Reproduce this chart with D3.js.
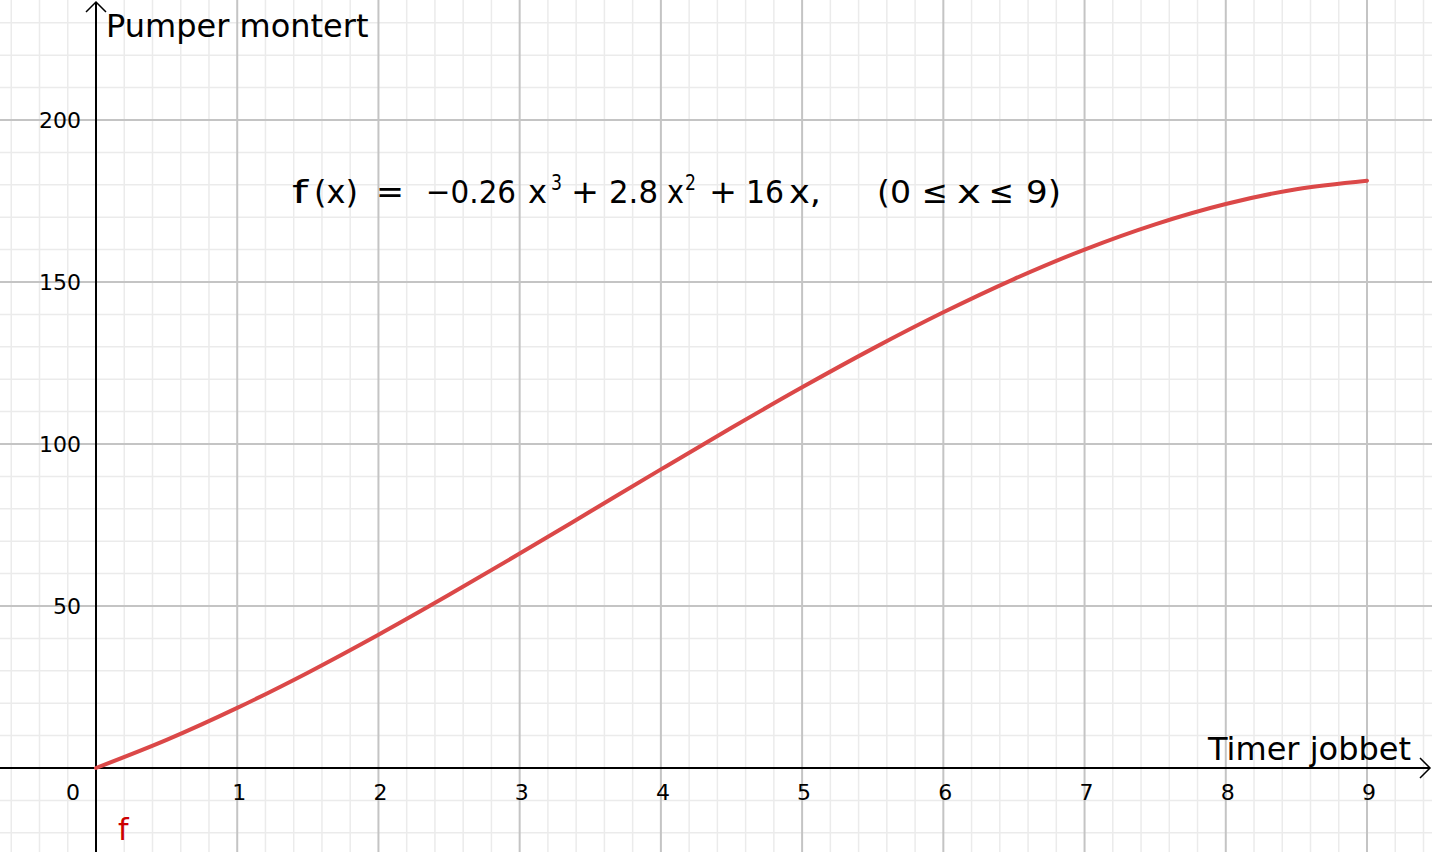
<!DOCTYPE html>
<html><head><meta charset="utf-8">
<script src="https://cdn.jsdelivr.net/npm/d3@7"></script>
<style>html,body{margin:0;padding:0;background:#fff;overflow:hidden}</style>
</head><body>
<svg id="c" width="1432" height="852"></svg>
<script>
// Data
const xTicks = [1, 2, 3, 4, 5, 6, 7, 8, 9];
const yTicks = [50, 100, 150, 200];
const xVals = [0, 0.5, 1, 1.5, 2, 2.5, 3, 3.5, 4, 4.5, 5, 5.5, 6, 6.5, 7, 7.5, 8, 8.5, 9];
const yVals = [0, 8.67, 18.54, 29.42, 41.12, 53.44, 66.18, 79.15, 92.16, 105.01, 117.5, 129.44, 140.64, 150.9, 160.02, 167.81, 174.08, 178.63, 181.26];
const xTitle = "Timer jobbet";
const yTitle = "Pumper montert";
const seriesName = "f";

const W = 1432, H = 852;
const svg = d3.select("#c");
const x = d3.scaleLinear().domain([0, 9]).range([96, 1367]);
const y = d3.scaleLinear().domain([0, 200]).range([768, 120]);
const xMin = x.invert(0), xMax = x.invert(W);
const yMin = y.invert(H), yMax = y.invert(0);

// minor grid
const minorX = d3.range(Math.ceil(xMin * 5), Math.floor(xMax * 5) + 1).map(d => d / 5).filter(d => Math.abs(d - Math.round(d)) > 1e-9);
const minorY = d3.range(Math.ceil(yMin / 10), Math.floor(yMax / 10) + 1).map(d => d * 10).filter(d => d % 50 !== 0);
const g = svg.append("g");
g.selectAll(".mx").data(minorX).enter().append("line")
  .attr("x1", d => x(d)).attr("x2", d => x(d)).attr("y1", 0).attr("y2", H)
  .attr("stroke", "#ebebeb").attr("stroke-width", 1.5);
g.selectAll(".my").data(minorY).enter().append("line")
  .attr("y1", d => y(d)).attr("y2", d => y(d)).attr("x1", 0).attr("x2", W)
  .attr("stroke", "#ebebeb").attr("stroke-width", 1.5);
// major grid
const majorX = d3.range(Math.ceil(xMin), Math.floor(xMax) + 1).filter(d => d !== 0);
const majorY = d3.range(Math.ceil(yMin / 50), Math.floor(yMax / 50) + 1).map(d => d * 50).filter(d => d !== 0);
g.selectAll(".Mx").data(majorX).enter().append("line")
  .attr("x1", d => x(d)).attr("x2", d => x(d)).attr("y1", 0).attr("y2", H)
  .attr("stroke", "#c4c4c4").attr("stroke-width", 2);
g.selectAll(".My").data(majorY).enter().append("line")
  .attr("y1", d => y(d)).attr("y2", d => y(d)).attr("x1", 0).attr("x2", W)
  .attr("stroke", "#c4c4c4").attr("stroke-width", 2);

// axes
svg.append("line").attr("x1", 0).attr("x2", W - 2).attr("y1", y(0)).attr("y2", y(0)).attr("stroke", "#000").attr("stroke-width", 2);
svg.append("line").attr("x1", x(0)).attr("x2", x(0)).attr("y1", 2).attr("y2", H).attr("stroke", "#000").attr("stroke-width", 2);
svg.append("path").attr("d", `M${W - 12},${y(0) - 10} L${W - 2},${y(0)} L${W - 12},${y(0) + 10}`)
  .attr("fill", "none").attr("stroke", "#000").attr("stroke-width", 1.5);
svg.append("path").attr("d", `M${x(0) - 10},${12} L${x(0)},${2} L${x(0) + 10},${12}`)
  .attr("fill", "none").attr("stroke", "#000").attr("stroke-width", 1.5);

const font = "DejaVu Sans, sans-serif";
// tick labels
svg.selectAll(".xt").data(xTicks).enter().append("text")
  .attr("x", d => x(d) + 2).attr("y", y(0) + 32).attr("text-anchor", "middle")
  .attr("font-family", font).attr("font-size", 22).text(d => d);
svg.append("text").attr("x", x(0) - 23).attr("y", y(0) + 32).attr("text-anchor", "middle")
  .attr("font-family", font).attr("font-size", 22).text("0");
svg.selectAll(".yt").data(yTicks).enter().append("text")
  .attr("x", x(0) - 15).attr("y", d => y(d) + 8).attr("text-anchor", "end")
  .attr("font-family", font).attr("font-size", 22).text(d => d);

// axis titles
svg.append("text").attr("x", 106).attr("y", 37).attr("font-family", font).attr("font-size", 32).text(yTitle);
svg.append("text").attr("x", 1411).attr("y", 760).attr("text-anchor", "end").attr("font-family", font).attr("font-size", 32).text(xTitle);

// curve
const pts = xVals.map((v, i) => [v, yVals[i]]);
svg.append("path").datum(pts)
  .attr("d", d3.line().x(d => x(d[0])).y(d => y(d[1])).curve(d3.curveCatmullRom))
  .attr("fill", "none").attr("stroke", "#db4848").attr("stroke-width", 4).attr("stroke-linecap", "round");

// series label
svg.append("text").attr("x", 118).attr("y", 840).attr("font-family", font).attr("font-size", 30)
  .attr("fill", "#cc0000").text(seriesName);

// formula (condensed math style)
const base = 203;
const parts = [
  ["f", 292, 16], ["(x)", 314, 44], ["=", 376, 28], ["\u22120.26", 426, 90], ["x", 528, 19],
  ["+", 571, 28], ["2.8", 609, 49], ["x", 667, 17], ["+", 709, 28], ["16", 746, 38], ["x,", 789, 32],
  ["(0", 877, 34], ["\u2264", 922, 26], ["x", 957, 24], ["\u2264", 989, 25], ["9)", 1026, 35]
];
const ft = svg.append("g").attr("font-family", font).attr("font-size", 32).attr("fill", "#000");
parts.forEach(p => ft.append("text").attr("x", p[1]).attr("y", base)
  .attr("textLength", p[2]).attr("lengthAdjust", "spacingAndGlyphs").text(p[0]));
ft.append("text").attr("x", 551).attr("y", 190).attr("font-size", 21)
  .attr("textLength", 11).attr("lengthAdjust", "spacingAndGlyphs").text("3");
ft.append("text").attr("x", 685).attr("y", 190).attr("font-size", 21)
  .attr("textLength", 11).attr("lengthAdjust", "spacingAndGlyphs").text("2");
</script>
</body></html>
